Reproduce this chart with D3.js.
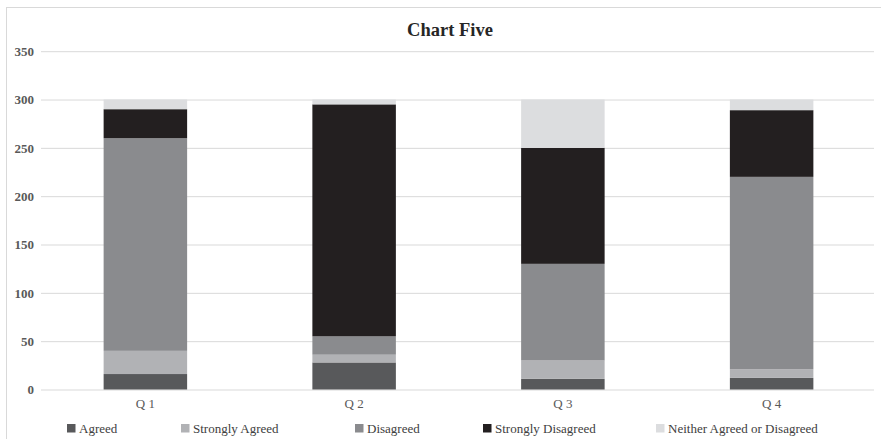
<!DOCTYPE html>
<html>
<head>
<meta charset="utf-8">
<script src="https://cdn.jsdelivr.net/npm/d3@7"></script>
<style>
  html, body { margin: 0; padding: 0; background: #fff; }
  svg { display: block; }
  svg text { font-family: "Liberation Serif", "Times New Roman", serif; }
</style>
</head>
<body>
<svg id="chart" width="881" height="439"></svg>
<script>
// Survey responses per question, stacked bottom-to-top in series order
const categories = ["Q 1", "Q 2", "Q 3", "Q 4"];
const seriesNames = ["Agreed", "Strongly Agreed", "Disagreed", "Strongly Disagreed", "Neither Agreed or Disagreed"];
const agreed            = [16, 28, 11, 12];
const stronglyAgreed    = [24, 8, 19, 9];
const disagreed         = [220, 19, 100, 199];
const stronglyDisagreed = [30, 240, 120, 69];
const neither           = [10, 5, 50, 11];
const yTicks = [0, 50, 100, 150, 200, 250, 300, 350];
const title = "Chart Five";

const seriesValues = [agreed, stronglyAgreed, disagreed, stronglyDisagreed, neither];
const colors = ["#58595b", "#b1b2b5", "#8a8b8e", "#231f20", "#dcdddf"];
const serif = "Liberation Serif";

const svg = d3.select("#chart");

// outer chart frame
svg.append("rect")
  .attr("x", 6.5).attr("y", 7.5)
  .attr("width", 890).attr("height", 440)
  .attr("fill", "none").attr("stroke", "#d9d9d9");

const plot = { left: 41, right: 876, top: 51.2, bottom: 389.5 };

const x = d3.scaleBand()
  .domain(categories)
  .range([plot.left, plot.right])
  .paddingInner(0.6)
  .paddingOuter(0.3);

const y = d3.scaleLinear()
  .domain([0, 350])
  .range([plot.bottom, plot.top]);

// gridlines + value axis
const yAxis = d3.axisLeft(y)
  .tickValues(yTicks)
  .tickSize(-(plot.right - plot.left - 2))
  .tickPadding(7);

const gy = svg.append("g")
  .attr("transform", `translate(${plot.left},0)`)
  .call(yAxis)
  .attr("font-family", serif);
gy.select(".domain").remove();
gy.selectAll(".tick line").attr("stroke", "#d9d9d9").attr("stroke-width", 1);
gy.selectAll(".tick text")
  .attr("font-family", serif)
  .attr("font-size", 13)
  .attr("font-weight", "bold")
  .attr("fill", "#595959");

// stacked data table
const table = categories.map((c, i) => {
  const row = { cat: c };
  seriesNames.forEach((s, j) => { row[s] = seriesValues[j][i]; });
  return row;
});
const stacked = d3.stack().keys(seriesNames)(table);

svg.append("g").selectAll("g")
  .data(stacked)
  .join("g")
  .attr("fill", (d, i) => colors[i])
  .selectAll("rect")
  .data(d => d)
  .join("rect")
  .attr("x", d => x(d.data.cat))
  .attr("width", x.bandwidth())
  .attr("y", d => y(d[1]))
  .attr("height", d => y(d[0]) - y(d[1]));

// category axis labels
const xAxis = d3.axisBottom(x).tickSize(0).tickPadding(9);
const gx = svg.append("g")
  .attr("transform", `translate(0,${plot.bottom})`)
  .call(xAxis)
  .attr("font-family", serif);
gx.select(".domain").remove();
gx.selectAll(".tick text")
  .attr("font-family", serif)
  .attr("font-size", 13)
  .attr("fill", "#595959");

// title
svg.append("text")
  .attr("x", 450).attr("y", 36)
  .attr("text-anchor", "middle")
  .attr("font-family", serif)
  .attr("font-size", 18.5)
  .attr("font-weight", "bold")
  .attr("fill", "#262626")
  .text(title);

// legend
const legendX = [67, 181, 355, 483, 656];
const legend = svg.append("g").selectAll("g")
  .data(seriesNames)
  .join("g")
  .attr("transform", (d, i) => `translate(${legendX[i]},424)`);
legend.append("rect")
  .attr("width", 8.5).attr("height", 8.5)
  .attr("fill", (d, i) => colors[i]);
legend.append("text")
  .attr("x", 12).attr("y", 8.5)
  .attr("font-family", serif)
  .attr("font-size", 13)
  .attr("fill", "#404040")
  .text(d => d);
</script>
</body>
</html>
